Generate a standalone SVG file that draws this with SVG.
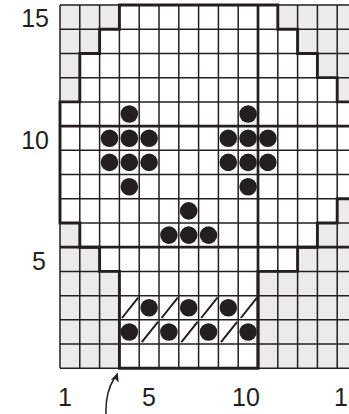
<svg xmlns="http://www.w3.org/2000/svg" width="349" height="414" viewBox="0 0 349 414">
<style>
.thin{stroke:#231f20;stroke-width:1.5;fill:none}
.thick{stroke:#231f20;stroke-width:2.7;fill:none}
.outline{stroke:#231f20;stroke-width:2.9;fill:#ffffff;stroke-linejoin:miter}
.dot{fill:#231f20}
.sl{stroke:#231f20;stroke-width:2;stroke-linecap:butt}
.lbl{font-family:"Liberation Sans",Arial,sans-serif;font-size:25px;fill:#231f20}
</style>
<rect width="349" height="414" fill="#ffffff"/>
<g id="background">
<rect x="60" y="5" width="297" height="363.3" fill="#ebebeb"/>
<polygon class="outline" style="stroke:none" points="119.4,5 277.8,5 277.8,29.22 297.6,29.22 297.6,53.44 317.4,53.44 317.4,77.66 337.2,77.66 337.2,101.88 357,101.88 357,198.76 337.2,198.76 337.2,222.98 317.4,222.98 317.4,247.2 297.6,247.2 297.6,271.42 258,271.42 258,368.3 119.4,368.3 119.4,271.42 99.6,271.42 99.6,247.2 79.8,247.2 79.8,222.98 60,222.98 60,101.88 79.8,101.88 79.8,53.44 99.6,53.44 99.6,29.22 119.4,29.22"/>
</g>
<g id="grid">
<path class="thin" d="M60,5V368.3M79.8,5V368.3M99.6,5V368.3M119.4,5V368.3M139.2,5V368.3M159,5V368.3M178.8,5V368.3M198.6,5V368.3M218.4,5V368.3M238.2,5V368.3M277.8,5V368.3M297.6,5V368.3M317.4,5V368.3M337.2,5V368.3"/>
<path class="thin" d="M60,368.3H357M60,344.08H357M60,319.86H357M60,295.64H357M60,271.42H357M60,222.98H357M60,198.76H357M60,174.54H357M60,150.32H357M60,101.88H357M60,77.66H357M60,53.44H357M60,29.22H357M60,5H357"/>
<path class="thick" d="M258,5V368.3M60,247.2H357M60,126.1H357"/>
</g>
<g id="skull-outline">
<polygon class="outline" style="fill:none" points="119.4,5 277.8,5 277.8,29.22 297.6,29.22 297.6,53.44 317.4,53.44 317.4,77.66 337.2,77.66 337.2,101.88 357,101.88 357,198.76 337.2,198.76 337.2,222.98 317.4,222.98 317.4,247.2 297.6,247.2 297.6,271.42 258,271.42 258,368.3 119.4,368.3 119.4,271.42 99.6,271.42 99.6,247.2 79.8,247.2 79.8,222.98 60,222.98 60,101.88 79.8,101.88 79.8,53.44 99.6,53.44 99.6,29.22 119.4,29.22"/>
</g>
<g id="left-eye">
<circle class="dot" cx="129.3" cy="114" r="8.8"/>
<circle class="dot" cx="109.5" cy="138.2" r="8.8"/>
<circle class="dot" cx="129.3" cy="138.2" r="8.8"/>
<circle class="dot" cx="149.1" cy="138.2" r="8.8"/>
<circle class="dot" cx="109.5" cy="162.4" r="8.8"/>
<circle class="dot" cx="129.3" cy="162.4" r="8.8"/>
<circle class="dot" cx="149.1" cy="162.4" r="8.8"/>
<circle class="dot" cx="129.3" cy="186.7" r="8.8"/>
</g>
<g id="right-eye">
<circle class="dot" cx="248.1" cy="114" r="8.8"/>
<circle class="dot" cx="228.3" cy="138.2" r="8.8"/>
<circle class="dot" cx="248.1" cy="138.2" r="8.8"/>
<circle class="dot" cx="267.9" cy="138.2" r="8.8"/>
<circle class="dot" cx="228.3" cy="162.4" r="8.8"/>
<circle class="dot" cx="248.1" cy="162.4" r="8.8"/>
<circle class="dot" cx="267.9" cy="162.4" r="8.8"/>
<circle class="dot" cx="248.1" cy="186.7" r="8.8"/>
</g>
<g id="nose">
<circle class="dot" cx="188.7" cy="210.9" r="8.8"/>
<circle class="dot" cx="168.9" cy="235.1" r="8.8"/>
<circle class="dot" cx="188.7" cy="235.1" r="8.8"/>
<circle class="dot" cx="208.5" cy="235.1" r="8.8"/>
</g>
<g id="teeth">
<circle class="dot" cx="149.1" cy="307.8" r="8.8"/>
<circle class="dot" cx="188.7" cy="307.8" r="8.8"/>
<circle class="dot" cx="228.3" cy="307.8" r="8.8"/>
<circle class="dot" cx="129.3" cy="332" r="8.8"/>
<circle class="dot" cx="168.9" cy="332" r="8.8"/>
<circle class="dot" cx="208.5" cy="332" r="8.8"/>
<circle class="dot" cx="248.1" cy="332" r="8.8"/>
<path class="sl" d="M122,318L138.2,297.6M161.6,318L177.8,297.6M201.2,318L217.4,297.6M240.8,318L257,297.6M141.8,342.2L158,321.8M181.4,342.2L197.6,321.8M221,342.2L237.2,321.8"/>
</g>
<g id="labels">
<text class="lbl" x="49" y="27" text-anchor="end">15</text>
<text class="lbl" x="49" y="149" text-anchor="end">10</text>
<text class="lbl" x="46" y="270" text-anchor="end">5</text>
<text class="lbl" x="65" y="406" text-anchor="middle">1</text>
<text class="lbl" x="149" y="406" text-anchor="middle">5</text>
<text class="lbl" x="246" y="406" text-anchor="middle">10</text>
<text class="lbl" x="348" y="406" text-anchor="middle">15</text>
</g>
<g id="arrow">
<path d="M106,414C105.5,400 108,388 114.5,378" fill="none" stroke="#231f20" stroke-width="1.5"/>
<polygon points="117.8,372.5 118.6,382.8 115.2,378.8 110.6,380.2" fill="#231f20"/>
</g>
</svg>
